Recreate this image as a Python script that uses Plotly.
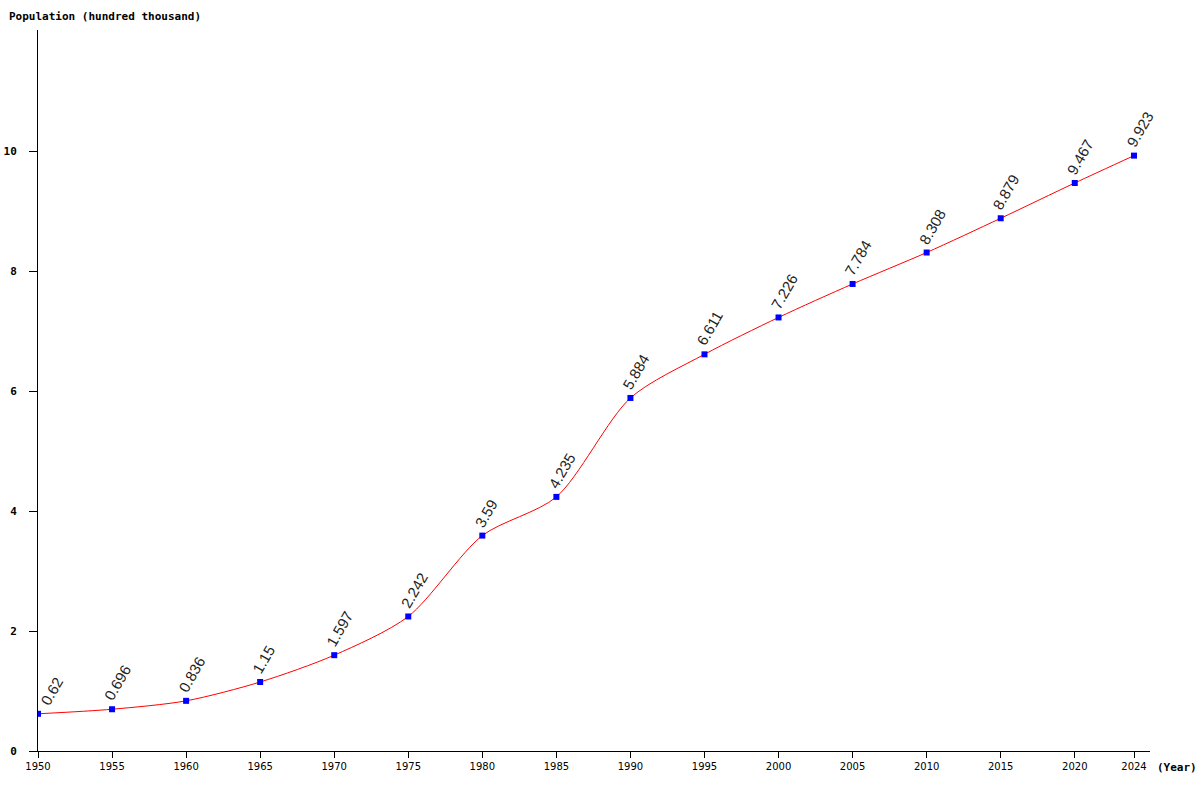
import plotly.graph_objects as go

years = [1950, 1955, 1960, 1965, 1970, 1975, 1980, 1985, 1990, 1995, 2000, 2005, 2010, 2015, 2020, 2024]
population = [0.62, 0.696, 0.836, 1.15, 1.597, 2.242, 3.59, 4.235, 5.884, 6.611, 7.226, 7.784, 8.308, 8.879, 9.467, 9.923]
value_labels = ["0.62", "0.696", "0.836", "1.15", "1.597", "2.242", "3.59", "4.235", "5.884", "6.611", "7.226", "7.784", "8.308", "8.879", "9.467", "9.923"]
y_ticks = [0, 2, 4, 6, 8, 10]

fig = go.Figure()
fig.add_trace(go.Scatter(
    x=years, y=population, mode="lines+markers",
    line=dict(color="#ff0000", width=1, shape="spline", smoothing=0.8),
    marker=dict(symbol="square", size=6, color="#0000ff"),
    hoverinfo="skip",
))

annotations = []
for i, (xv, yv, t) in enumerate(zip(years, population, value_labels)):
    annotations.append(dict(
        x=xv, y=yv, xref="x", yref="y", text=t, showarrow=False,
        textangle=-60, xanchor="left", yanchor="bottom",
        xshift=(-4 if i == 0 else -14), yshift=3,
        font=dict(family="Liberation Sans, Arial", size=15, color="#222222"),
    ))

L, R, T, B = 38, 50, 30, 49
pw, ph = 1200 - L - R, 800 - T - B
annotations.append(dict(
    x=(1199 - L) / pw, y=1 - (767 - T) / ph, xref="paper", yref="paper", text="(Year)",
    showarrow=False, xanchor="right", yanchor="middle",
    font=dict(family="DejaVu Sans Mono", size=11, color="#000000", weight="bold"),
))

fig.update_layout(
    width=1200, height=800,
    margin=dict(l=L, r=R, t=T, b=B, pad=0, autoexpand=False),
    paper_bgcolor="white", plot_bgcolor="white",
    showlegend=False,
    annotations=annotations,
    title=dict(
        text="Population (hundred thousand)", xref="container", yref="container",
        x=9 / 1200, y=1 - 16 / 800, xanchor="left", yanchor="middle",
        font=dict(family="DejaVu Sans Mono", size=11, color="#000000", weight="bold"),
    ),
    xaxis=dict(
        range=[1950, 1950 + 1112 / (1096 / 74)],
        tickvals=years, ticktext=[str(y) for y in years],
        ticks="outside", ticklen=6, tickcolor="black", tickwidth=1,
        showline=True, linecolor="black", linewidth=1,
        showgrid=False, zeroline=False, automargin=False,
        tickfont=dict(family="DejaVu Sans", size=10, color="#000000"),
    ),
    yaxis=dict(
        range=[0, 721 / 60],
        tickvals=y_ticks, ticktext=[str(v) for v in y_ticks],
        ticks="outside", ticklen=8, tickcolor="black", tickwidth=1,
        showline=True, linecolor="black", linewidth=1,
        showgrid=False, zeroline=False, automargin=False,
        ticklabelstandoff=10,
        tickfont=dict(family="DejaVu Sans Mono", size=11, color="#000000", weight="bold"),
    ),
)

fig.write_html("out.html", config={"displayModeBar": False},
               post_script="document.body.style.margin='0';document.body.style.overflow='hidden';")
